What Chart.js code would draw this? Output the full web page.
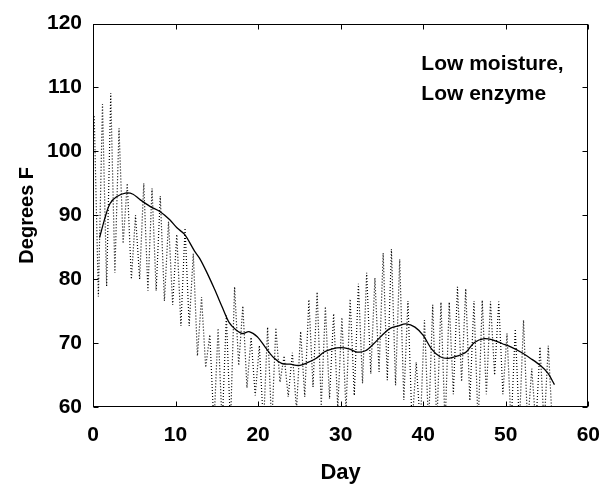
<!DOCTYPE html>
<html>
<head>
<meta charset="utf-8">
<script src="https://cdn.jsdelivr.net/npm/chart.js@4/dist/chart.umd.min.js"></script>
<style>
  html, body { margin: 0; padding: 0; background: #fff; }
  canvas { display: block; }
</style>
</head>
<body>
<canvas id="c" width="616" height="489"></canvas>
<script>
// ─────────────────────────────────────────────────────────────
// DATA
// ─────────────────────────────────────────────────────────────
const xTicks = [0, 10, 20, 30, 40, 50, 60];
const yTicks = [60, 70, 80, 90, 100, 110, 120];

// daily temperature swings: one high and one low per day (day 0 .. 55)
const dailyHighs = [105.5, 107.4, 109.1, 103.6, 95, 90, 95, 94.2, 93, 89,
                    87, 88, 84, 77.2, 71.3, 72.3, 74.3, 78.8, 75.8, 70.9,
                    69.6, 72.5, 72.4, 68, 68.5, 71.8, 76.8, 78, 75.7, 74.6,
                    74, 76.9, 79.3, 81, 80.2, 84.1, 84.7, 83.1, 76.6, 67,
                    73.6, 76, 76.4, 76.4, 78.8, 78.5, 76.6, 76.7, 76.5, 76.5,
                    71.5, 72.2, 73.6, 66, 69.4, 69.6];
const dailyLows  = [77.3, 78.9, 81, 85.6, 80, 80, 78.2, 78.2, 76.6, 76,
                    72.7, 72.7, 68, 66.2, 57, 57, 57, 66.5, 63, 61.8,
                    57, 57, 63.9, 61.6, 59.5, 61.6, 63.1, 60.2, 61.3, 59.8,
                    59.5, 61.8, 63.7, 65.2, 65.5, 64.2, 63.4, 61.1, 57, 57,
                    57, 57, 57, 62, 64, 61, 57, 62, 65, 62,
                    57, 57, 57, 57, 57, 57];

// smoothed (running average) curve
const smoothDays  = [0.8, 1.45, 2.05, 2.85, 4.05, 4.85, 5.65, 6.9, 8.1, 9.3,
                     10.2, 11.1, 12.3, 12.9, 13.7, 14.7, 15.7, 16.5, 17.3, 18.1,
                     18.9, 19.9, 20.9, 21.9, 22.9, 23.9, 24.9, 25.9, 27, 28,
                     29, 30, 31, 32, 33, 34, 35, 36, 37, 37.9,
                     39, 40, 41, 42, 43, 44.2, 45.2, 46.2, 47.4, 48.4,
                     49.6, 50.6, 51.8, 53, 54.2, 55.1, 55.9];
const smoothTemps = [86.5, 89.6, 91.8, 92.9, 93.5, 93.3, 92.5, 91.4, 90.6, 89.3,
                     88, 87, 84.4, 83.3, 81.3, 78.5, 75.5, 73.2, 72.1, 71.5,
                     71.8, 71, 69.3, 67.7, 66.8, 66.7, 66.5, 66.9, 67.6, 68.6,
                     69.1, 69.3, 69.1, 68.6, 68.8, 69.9, 71.2, 72.3, 72.7, 73,
                     72.5, 71.2, 69.1, 67.9, 67.6, 68, 68.6, 70.1, 70.7, 70.5,
                     69.9, 69.4, 68.6, 67.6, 66.5, 65.3, 63.5];

const noteLines = ['Low moisture,', 'Low enzyme'];

// ─────────────────────────────────────────────────────────────
// HELPERS
// ─────────────────────────────────────────────────────────────
const FONT = "'Liberation Sans', Arial, sans-serif";

// highs sit early in each day, lows half a day later
const dailyPoints = [];
dailyHighs.forEach((hi, d) => {
  dailyPoints.push({ x: d + 0.15, y: hi });
  dailyPoints.push({ x: d + 0.65, y: dailyLows[d] });
});
const smoothPoints = smoothDays.map((d, i) => ({ x: d, y: smoothTemps[i] }));

// frame, inward tick marks on all four sides, and the note
const framePlugin = {
  id: 'frame',
  afterDraw(chart) {
    const { ctx, chartArea: a, scales: { x, y } } = chart;
    const L = Math.round(a.left) + 0.5, R = Math.round(a.right) - 0.5;
    const T = Math.round(a.top) + 0.5, B = Math.round(a.bottom) - 0.5;
    const len = 5;
    ctx.save();
    ctx.strokeStyle = '#000';
    ctx.lineWidth = 1;
    ctx.strokeRect(L, T, R - L, B - T);
    ctx.beginPath();
    xTicks.forEach(v => {
      const px = Math.round(x.getPixelForValue(v)) + 0.5;
      ctx.moveTo(px, B); ctx.lineTo(px, B - len);
      ctx.moveTo(px, T); ctx.lineTo(px, T + len);
    });
    yTicks.forEach(v => {
      const py = Math.round(y.getPixelForValue(v)) + 0.5;
      ctx.moveTo(L, py); ctx.lineTo(L + len, py);
      ctx.moveTo(R, py); ctx.lineTo(R - len, py);
    });
    ctx.stroke();

    ctx.fillStyle = '#000';
    ctx.font = `bold 21px ${FONT}`;
    ctx.textBaseline = 'alphabetic';
    ctx.textAlign = 'left';
    noteLines.forEach((t, i) => {
      ctx.fillText(t, a.right - 167, a.top + 46 + i * 30);
    });
    ctx.restore();
  }
};

// ─────────────────────────────────────────────────────────────
// CHART
// ─────────────────────────────────────────────────────────────
new Chart(document.getElementById('c'), {
  type: 'line',
  data: {
    datasets: [
      {
        data: dailyPoints,
        borderColor: '#000',
        borderWidth: 1.2,
        borderDash: [1, 2],
        pointRadius: 0,
        tension: 0,
        fill: false,
      },
      {
        data: smoothPoints,
        borderColor: '#000',
        borderWidth: 1.3,
        pointRadius: 0,
        tension: 0.3,
        fill: false,
      },
    ]
  },
  options: {
    responsive: false,
    animation: false,
    events: [],
    layout: { padding: { left: 0, top: 21, right: 25, bottom: 0 } },
    plugins: { legend: { display: false }, tooltip: { enabled: false } },
    scales: {
      x: {
        type: 'linear',
        min: 0, max: 60,
        afterFit: s => { s.height = 82; },
        afterBuildTicks: s => { s.ticks = xTicks.map(v => ({ value: v })); },
        grid: { display: false, drawTicks: false },
        border: { display: false },
        ticks: { color: '#000', padding: 16, maxRotation: 0,
                 font: { family: FONT, size: 21, weight: 'bold' } },
        title: { display: true, text: 'Day', color: '#000',
                 padding: { top: 0, bottom: 3 },
                 font: { family: FONT, size: 22, weight: 'bold' } },
      },
      y: {
        type: 'linear',
        min: 60, max: 120,
        afterFit: s => { s.width = 93; },
        afterBuildTicks: s => { s.ticks = yTicks.map(v => ({ value: v })); },
        grid: { display: false, drawTicks: false },
        border: { display: false },
        ticks: { color: '#000', padding: 11,
                 font: { family: FONT, size: 21, weight: 'bold' } },
        title: { display: true, text: 'Degrees F', color: '#000',
                 padding: { top: 15, bottom: 0 },
                 font: { family: FONT, size: 20, weight: 'bold' } },
      }
    }
  },
  plugins: [framePlugin]
});
</script>
</body>
</html>
